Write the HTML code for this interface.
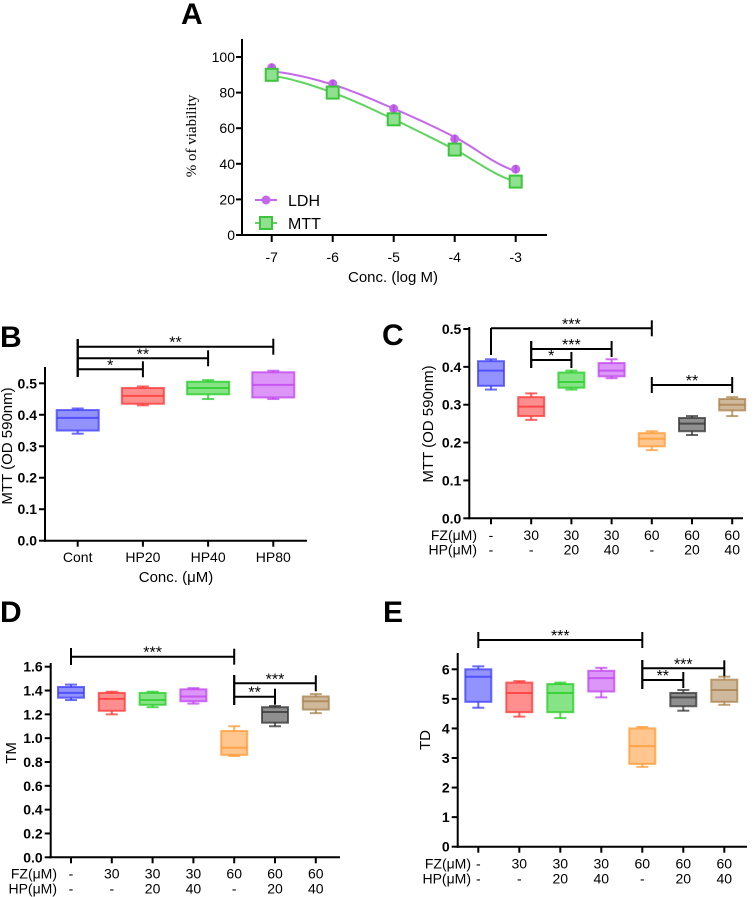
<!DOCTYPE html>
<html><head><meta charset="utf-8"><style>
body{margin:0;background:#fff}
svg{display:block;font-family:"Liberation Sans",sans-serif}
</style></head><body>
<svg id="fig" width="756" height="897" viewBox="0 0 756 897"></svg>
<script>
// ---- Panel A data ----
const aX = [-7,-6,-5,-4,-3];
const aLDH = [94,85,71,54,37];
const aLDHfit = [92,84.5,71,55,36];
const aMTT = [90,80,65,48,30];
const aMTTfit = [89.5,80,65,48,30];
const aYTicks = [0,20,40,60,80,100];
// ---- Panel B data ----
const bCats = ['Cont','HP20','HP40','HP80'];
const bMin = [0.34,0.43,0.45,0.45];
const bQ1 = [0.35,0.435,0.465,0.455];
const bMed = [0.39,0.46,0.485,0.495];
const bQ3 = [0.415,0.485,0.505,0.535];
const bMax = [0.42,0.49,0.51,0.54];
const bYTicks = [0,0.1,0.2,0.3,0.4,0.5];
// ---- shared groups ----
const fzRow = ['-','30','30','30','60','60','60'];
const hpRow = ['-','-','20','40','-','20','40'];
// ---- Panel C ----
const cMin = [0.34,0.26,0.34,0.37,0.18,0.22,0.27];
const cQ1 = [0.35,0.27,0.345,0.375,0.19,0.23,0.285];
const cMed = [0.39,0.295,0.36,0.39,0.21,0.25,0.30];
const cQ3 = [0.415,0.32,0.385,0.41,0.225,0.265,0.315];
const cMax = [0.42,0.33,0.39,0.42,0.23,0.27,0.32];
const cYTicks = [0,0.1,0.2,0.3,0.4,0.5];
// ---- Panel D ----
const dMin = [1.32,1.2,1.26,1.29,0.85,1.10,1.21];
const dQ1 = [1.34,1.23,1.28,1.31,0.86,1.13,1.24];
const dMed = [1.38,1.33,1.32,1.35,0.92,1.22,1.31];
const dQ3 = [1.43,1.38,1.38,1.41,1.06,1.26,1.35];
const dMax = [1.45,1.39,1.39,1.42,1.10,1.27,1.37];
const dYTicks = [0,0.2,0.4,0.6,0.8,1.0,1.2,1.4,1.6];
// ---- Panel E ----
const eMin = [4.7,4.4,4.35,5.05,2.7,4.6,4.8];
const eQ1 = [4.9,4.55,4.55,5.25,2.8,4.75,4.9];
const eMed = [5.75,5.2,5.2,5.7,3.4,5.05,5.3];
const eQ3 = [6.0,5.55,5.5,5.95,4.0,5.2,5.65];
const eMax = [6.1,5.6,5.55,6.05,4.05,5.3,5.75];
const eYTicks = [0,1,2,3,4,5,6];

const colors = ['#3b3bff','#ff3333','#22cc22','#c040f0','#ff9933','#333333','#a8804a'];
const NS='http://www.w3.org/2000/svg';
const svg=document.getElementById('fig');
function mk(tag,attrs,parent,text){const e=document.createElementNS(NS,tag);for(const k in attrs)e.setAttribute(k,attrs[k]);if(text!==undefined)e.textContent=text;(parent||svg).appendChild(e);return e;}
function line(x1,y1,x2,y2,g,w){return mk('line',{x1,y1,x2,y2,stroke:'#000','stroke-width':w||2},g);}

function panelLetter(t,x,y){const e=mk('text',{x,y,'font-size':30,'font-weight':'bold'},svg,t);

}

// ============ Panel A ============
(function(){
 const g=mk('g',{});
 
 
 const X=v=>271.7+(v+7)*61, Y=v=>235-v*1.78;
 line(242,39,242,236,g,2); line(241,235,547,235,g,2);
 aYTicks.forEach(t=>{line(236,Y(t),242,Y(t),g,2);
  const e=mk('text',{x:235,y:Y(t)+5,'text-anchor':'end','font-size':14},g,String(t));
  });
 aX.forEach(t=>{line(X(t),235,X(t),242,g,2);
  const e=mk('text',{x:X(t),y:262,'text-anchor':'middle','font-size':14},g,String(t));
  });
 const xt=mk('text',{x:393,y:282,'text-anchor':'middle','font-size':15},g,'Conc. (log M)');
 
 const yt=mk('text',{x:0,y:0,transform:'translate(196,136) rotate(-90)','text-anchor':'middle','font-size':15,'font-family':'Liberation Serif,serif'},g,'% of viability');
 
 function curve(fit,col,name){let d='';const n=40;
  for(let i=0;i<=n;i++){const xv=-7+4*i/n;const k=Math.min(3,Math.floor(xv+7));const t=(xv+7)-k;
   const p0=fit[Math.max(0,k-1)],p1=fit[k],p2=fit[Math.min(4,k+1)],p3=fit[Math.min(4,k+2)];
   const v=0.5*((2*p1)+(-p0+p2)*t+(2*p0-5*p1+4*p2-p3)*t*t+(-p0+3*p1-3*p2+p3)*t*t*t);
   d+=(i?'L':'M')+X(xv).toFixed(1)+' '+Y(v).toFixed(1);}
  const p=mk('path',{d,fill:'none',stroke:col,'stroke-width':2},g);
  }
 curve(aLDHfit,'#c468ec','ldh-fit-curve');
 curve(aMTTfit,'#5ed45e','mtt-fit-curve');
 aX.forEach((x,i)=>{const c=mk('circle',{cx:X(x),cy:Y(aLDH[i]),r:4.5,fill:'#c468ec'},g);
  
  line(X(x),Y(aLDH[i])-4,X(x),Y(aLDH[i])+4,g,2).setAttribute('stroke','#b050e0');});
 aX.forEach((x,i)=>{const r=mk('rect',{x:X(x)-6,y:Y(aMTT[i])-6,width:12,height:12,fill:'#8fe08f',stroke:'#3cc43c','stroke-width':2},g);
  });
 const l1=mk('g',{},g);
 line(255,200,277,200,l1,2).setAttribute('stroke','#c468ec');
 mk('circle',{cx:266,cy:200,r:4.5,fill:'#c468ec'},l1);
 mk('text',{x:288,y:206,'font-size':16},l1,'LDH');
 const l2=mk('g',{},g);
 line(255,223,277,223,l2,2).setAttribute('stroke','#5ed45e');
 mk('rect',{x:260,y:217,width:12,height:12,fill:'#8fe08f',stroke:'#3cc43c','stroke-width':2},l2);
 mk('text',{x:288,y:229,'font-size':16},l2,'MTT');
})();
panelLetter('A',181,24);

// ============ Box panels ============
function boxPanel(o){
 const g=mk('g',{});
 
 
 const Y=v=>o.y0-(v-o.yMinV)/(o.yTopV-o.yMinV)*(o.y0-o.yTop);
 const X=i=>o.x0+i*o.step;
 line(o.ax,o.axTop,o.ax,o.y0+1,g,2); line(o.ax-1,o.y0,o.axEnd,o.y0,g,2);
 o.ticks.forEach(t=>{line(o.ax-6,Y(t),o.ax,Y(t),g,2);
  const e=mk('text',{x:o.ax-8,y:Y(t)+5,'text-anchor':'end','font-size':14,'font-weight':'bold'},g,o.fmt(t));
  });
 const yt=mk('text',{x:0,y:0,transform:`translate(${o.ytx},${o.yty}) rotate(-90)`,'text-anchor':'middle','font-size':15},g,o.ytitle);
 
 const n=o.min.length;
 for(let i=0;i<n;i++){
  const x=X(i),col=colors[i],hw=o.bw/2;
  line(x,o.y0,x,o.y0+6,g,2);
  const bg=mk('g',{},g);
  
  
  const s={stroke:col,'stroke-width':2,'stroke-opacity':0.75};
  mk('line',Object.assign({x1:x,y1:Y(o.max[i]),x2:x,y2:Y(o.q3[i])},s),bg);
  mk('line',Object.assign({x1:x,y1:Y(o.q1[i]),x2:x,y2:Y(o.min[i])},s),bg);
  mk('line',Object.assign({x1:x-6,y1:Y(o.max[i]),x2:x+6,y2:Y(o.max[i])},s),bg);
  mk('line',Object.assign({x1:x-6,y1:Y(o.min[i]),x2:x+6,y2:Y(o.min[i])},s),bg);
  mk('rect',Object.assign({x:x-hw,y:Y(o.q3[i]),width:o.bw,height:Y(o.q1[i])-Y(o.q3[i]),fill:col,'fill-opacity':0.55},s),bg);
  mk('line',Object.assign({x1:x-hw,y1:Y(o.med[i]),x2:x+hw,y2:Y(o.med[i])},s),bg);
 }
 o.brackets.forEach(b=>{const bg=mk('g',{},g);
  
  
  const x1=X(b[0]),x2=X(b[1]);
  line(x1,b[2],x2,b[2],bg,2);
  line(x1,b[3],x1,b[4],bg,2);
  line(x2,b[2]-8,x2,b[2]+8,bg,2);
  mk('text',{x:(x1+x2)/2,y:b[2]+1,'text-anchor':'middle','font-size':16},bg,b[5]);});
 return {g,X,Y};
}
function catRows(g,X,labX,fzY,hpY){
 const f=mk('text',{x:labX,y:fzY+5,'text-anchor':'end','font-size':14},g,'FZ(\u03bcM)');
 
 const h=mk('text',{x:labX,y:hpY+5,'text-anchor':'end','font-size':14},g,'HP(\u03bcM)');
 
 fzRow.forEach((t,i)=>{const e=mk('text',{x:X(i),y:fzY+5,'text-anchor':'middle','font-size':14},g,t);
  });
 hpRow.forEach((t,i)=>{const e=mk('text',{x:X(i),y:hpY+5,'text-anchor':'middle','font-size':14},g,t);
  });
}
const f1=t=>t.toFixed(1);
// B
(function(){
 const p=boxPanel({name:'panel-b-box-chart',ax:45,axTop:367,axEnd:307,y0:540.7,yTop:383.3,yMinV:0,yTopV:0.5,x0:77.7,step:65.2,bw:42,
  ticks:bYTicks,fmt:f1,ytitle:'MTT (OD 590nm)',ytx:12,yty:446,min:bMin,q1:bQ1,med:bMed,q3:bQ3,max:bMax,
  brackets:[[0,1,369.3,339,377,'*'],[0,2,358.3,339,377,'**'],[0,3,346.7,339,377,'**']]});
 bCats.forEach((c,i)=>{const e=mk('text',{x:p.X(i),y:562,'text-anchor':'middle','font-size':14},p.g,c);
  });
 const t=mk('text',{x:176,y:582,'text-anchor':'middle','font-size':15},p.g,'Conc. (\u03bcM)');
 
})();
panelLetter('B',0,347);
// C
(function(){
 const p=boxPanel({name:'panel-c-box-chart',ax:469.3,axTop:327,axEnd:743,y0:518.3,yTop:329,yMinV:0,yTopV:0.5,x0:491,step:40.2,bw:26,
  ticks:cYTicks,fmt:f1,ytitle:'MTT (OD 590nm)',ytx:433,yty:424,min:cMin,q1:cQ1,med:cMed,q3:cQ3,max:cMax,
  brackets:[[0,4,328.3,328,355,'***'],[1,3,349,341,368,'***'],[1,2,360,341,368,'*'],[4,6,385,377,393,'**']]});
 catRows(p.g,p.X,477,535,549.3);
})();
panelLetter('C',382,345);
// D
(function(){
 const p=boxPanel({name:'panel-d-box-chart',ax:50.7,axTop:663,axEnd:340,y0:857.3,yTop:666.7,yMinV:0,yTopV:1.6,x0:71,step:40.8,bw:26,
  ticks:dYTicks,fmt:f1,ytitle:'TM',ytx:16,yty:753,min:dMin,q1:dQ1,med:dMed,q3:dQ3,max:dMax,
  brackets:[[0,4,656.7,648,665,'***'],[4,6,683.3,675,705,'***'],[4,5,696.7,675,705,'**']]});
 catRows(p.g,p.X,57,873.3,888.3);
})();
panelLetter('D',0,622);
// E
(function(){
 const p=boxPanel({name:'panel-e-box-chart',ax:457.7,axTop:653,axEnd:747,y0:846.7,yTop:669.3,yMinV:0,yTopV:6,x0:478.3,step:41,bw:26,
  ticks:eYTicks,fmt:t=>String(t),ytitle:'TD',ytx:430,yty:740,min:eMin,q1:eQ1,med:eMed,q3:eQ3,max:eMax,
  brackets:[[0,4,640,632,648,'***'],[4,6,668.3,660,689,'***'],[4,5,680,660,689,'**']]});
 catRows(p.g,p.X,471,863.3,878.3);
})();
panelLetter('E',383,622);
</script>
</body></html>
